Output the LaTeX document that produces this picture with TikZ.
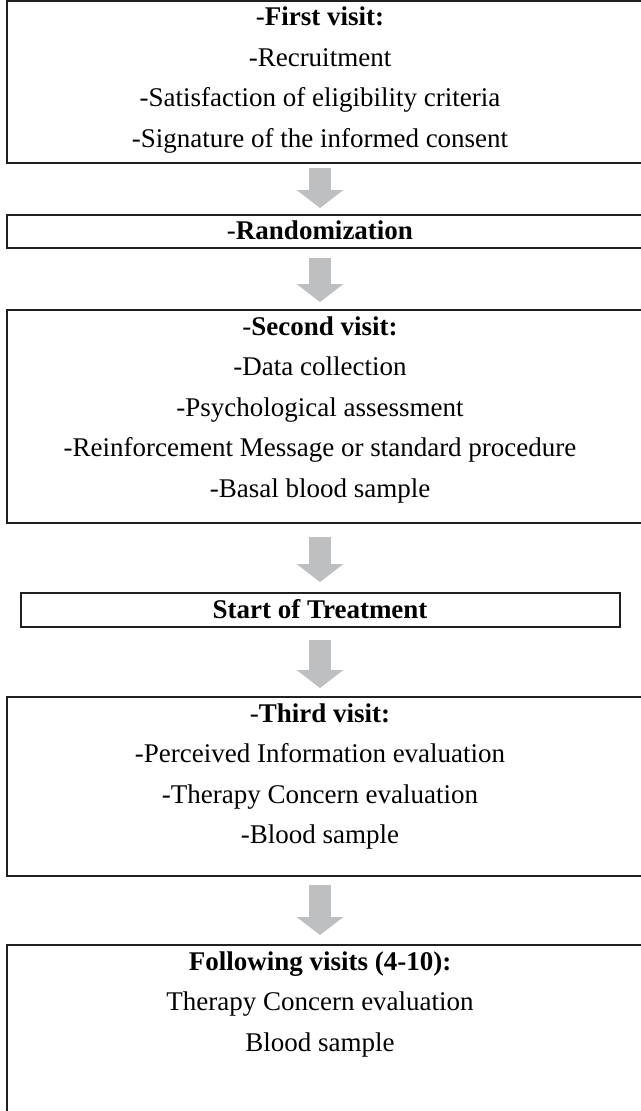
\documentclass[tikz,border=0pt]{standalone}
\usepackage{fontspec}
\setmainfont{Liberation Serif}
\usetikzlibrary{arrows.meta}
\definecolor{arrowgray}{RGB}{190,191,193}
\definecolor{boxline}{RGB}{35,31,32}
\begin{document}
\begin{tikzpicture}[x=1pt,y=-1pt,
  box/.style={draw=boxline,line width=2.4pt,anchor=north west,inner sep=0pt,outer sep=0pt},
  txt/.style={anchor=base,inner sep=0pt,font=\fontsize{27}{32}\selectfont},
  blockarrow/.style={draw=arrowgray,line width=22pt,-{Triangle[width=46pt,length=18pt,fill=arrowgray]}}]
\useasboundingbox (0,0) rectangle (640,1111);
% boxes
\node[box,minimum width=660pt,minimum height=162pt] (b1) at (7,1) {};
\node[box,minimum width=660pt,minimum height=33pt] (b2) at (7,215) {};
\node[box,minimum width=660pt,minimum height=213pt] (b3) at (7,310) {};
\node[box,minimum width=599pt,minimum height=34pt] (b4) at (21,593) {};
\node[box,minimum width=660pt,minimum height=179pt] (b5) at (7,697) {};
\node[box,minimum width=660pt,minimum height=190pt] (b6) at (7,945) {};
% texts
\node[txt] (t1a) at (320,25) {-\textbf{First visit:}};
\node[txt] (t1b) at (320,66) {-Recruitment};
\node[txt] (t1c) at (320,106) {-Satisfaction of eligibility criteria};
\node[txt] (t1d) at (320,147) {-Signature of the informed consent};
\node[txt] (t2a) at (320,239) {-\textbf{Randomization}};
\node[txt] (t3a) at (320,335) {-\textbf{Second visit:}};
\node[txt] (t3b) at (320,375) {-Data collection};
\node[txt] (t3c) at (320,416) {-Psychological assessment};
\node[txt] (t3d) at (320,456) {-Reinforcement Message or standard procedure};
\node[txt] (t3e) at (320,497) {-Basal blood sample};
\node[txt] (t4a) at (320,618) {\textbf{Start of Treatment}};
\node[txt] (t5a) at (320,722) {-\textbf{Third visit:}};
\node[txt] (t5b) at (320,762) {-Perceived Information evaluation};
\node[txt] (t5c) at (320,803) {-Therapy Concern evaluation};
\node[txt] (t5d) at (320,843) {-Blood sample};
\node[txt] (t6a) at (320,970) {\textbf{Following visits (4-10):}};
\node[txt] (t6b) at (320,1010) {Therapy Concern evaluation};
\node[txt] (t6c) at (320,1051) {Blood sample};
% arrows
\coordinate (a1s) at (320,168); \coordinate (a1e) at (320,208);
\coordinate (a2s) at (320,258); \coordinate (a2e) at (320,302);
\coordinate (a3s) at (320,537); \coordinate (a3e) at (320,582);
\coordinate (a4s) at (320,640); \coordinate (a4e) at (320,688);
\coordinate (a5s) at (320,885); \coordinate (a5e) at (320,935);
\draw[blockarrow] (a1s) -- (a1e);
\draw[blockarrow] (a2s) -- (a2e);
\draw[blockarrow] (a3s) -- (a3e);
\draw[blockarrow] (a4s) -- (a4e);
\draw[blockarrow] (a5s) -- (a5e);
\end{tikzpicture}
\end{document}
